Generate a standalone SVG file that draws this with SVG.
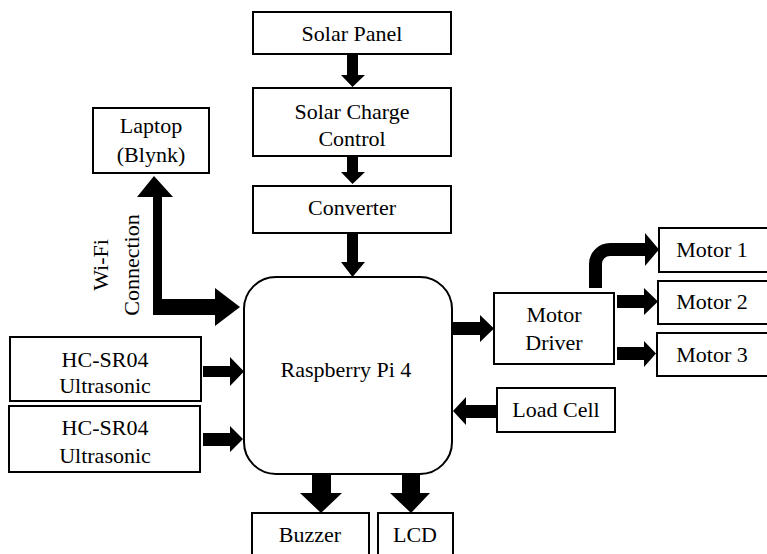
<svg xmlns="http://www.w3.org/2000/svg" width="767" height="554" viewBox="0 0 767 554">
<style>
.box{fill:#fff;stroke:#000;stroke-width:2}
.a{fill:#000;stroke:none}
.t{font-family:"Liberation Serif","Times New Roman",serif;font-size:22px;fill:#000;text-anchor:middle}
</style>
<rect x="0" y="0" width="767" height="554" fill="#fff"/>
<g id="connectors">
<polygon class="a" points="347,54 358,54 358,75 365,75 352.5,87 341,75 347,75"/>
<polygon class="a" points="347,156 358,156 358,172 365,172 352.5,184 341,172 347,172"/>
<polygon class="a" points="347,233 358,233 358,262 365,262 352.5,277 341,262 347,262"/>
<polygon class="a" points="154,176 173,197 162,197 162,299 215,299 215,288 240,307 215,326 215,315 153,315 153,197 137,197"/>
<polygon class="a" points="452,322 480,322 480,315 494,328.5 480,342 480,335 452,335"/>
<path d="M595.5,288 V264 A14.5,14.5 0 0 1 610,249.5 H646" fill="none" stroke="#000" stroke-width="13"/>
<polygon class="a" points="645,233 659,249.5 645,266"/>
<polygon class="a" points="617,295 644,295 644,288 658,301.5 644,315 644,308 617,308"/>
<polygon class="a" points="617,347 644,347 644,341 656,353.5 644,367 644,360 617,360"/>
<polygon class="a" points="497,405 466,405 466,397 453,411 466,425 466,418 497,418"/>
<polygon class="a" points="203,366 230,366 230,357 244,371.5 230,386 230,377 203,377"/>
<polygon class="a" points="203,433 230,433 230,426 243,439 230,452 230,446 203,446"/>
<polygon class="a" points="312,474 331,474 331,493 342,493 321,513 300,493 312,493"/>
<polygon class="a" points="402,474 420,474 420,493 430,493 411,513 390,493 402,493"/>
</g>
<g id="solar-panel"><rect class="box" x="253" y="12" width="198" height="42"/><text class="t" font-family="Liberation Serif" x="352" y="41">Solar Panel</text></g>
<g id="solar-charge-control"><rect class="box" x="253" y="88" width="198" height="68"/><text class="t" font-family="Liberation Serif" x="352" y="119">Solar Charge</text><text class="t" font-family="Liberation Serif" x="352" y="146">Control</text></g>
<g id="converter"><rect class="box" x="253" y="186" width="198" height="47"/><text class="t" font-family="Liberation Serif" x="352" y="215">Converter</text></g>
<g id="laptop"><rect class="box" x="93" y="108" width="116" height="65"/><text class="t" font-family="Liberation Serif" x="151" y="133">Laptop</text><text class="t" font-family="Liberation Serif" x="151" y="162">(Blynk)</text></g>
<g id="wifi-label"><text class="t" font-family="Liberation Serif" transform="translate(108,265) rotate(-90)">Wi-Fi</text><text class="t" font-family="Liberation Serif" transform="translate(139,265) rotate(-90)">Connection</text></g>
<g id="raspberry-pi"><rect class="box" x="244" y="277" width="208" height="197" rx="32" ry="32"/><text class="t" font-family="Liberation Serif" x="346" y="377">Raspberry Pi 4</text></g>
<g id="hc-sr04-1"><rect class="box" x="10" y="337" width="191" height="64"/><text class="t" font-family="Liberation Serif" x="105" y="367">HC-SR04</text><text class="t" font-family="Liberation Serif" x="105" y="393">Ultrasonic</text></g>
<g id="hc-sr04-2"><rect class="box" x="9" y="406" width="191" height="66"/><text class="t" font-family="Liberation Serif" x="105" y="435">HC-SR04</text><text class="t" font-family="Liberation Serif" x="105" y="463">Ultrasonic</text></g>
<g id="motor-driver"><rect class="box" x="494" y="293" width="120" height="71"/><text class="t" font-family="Liberation Serif" x="554" y="322">Motor</text><text class="t" font-family="Liberation Serif" x="554" y="350">Driver</text></g>
<g id="motor-1"><rect class="box" x="659" y="228" width="112" height="44"/><text class="t" font-family="Liberation Serif" x="712" y="257">Motor 1</text></g>
<g id="motor-2"><rect class="box" x="658" y="281" width="113" height="43"/><text class="t" font-family="Liberation Serif" x="712" y="309">Motor 2</text></g>
<g id="motor-3"><rect class="box" x="657" y="333" width="114" height="43"/><text class="t" font-family="Liberation Serif" x="712" y="362">Motor 3</text></g>
<g id="load-cell"><rect class="box" x="497" y="388" width="118" height="44"/><text class="t" font-family="Liberation Serif" x="556" y="417">Load Cell</text></g>
<g id="buzzer"><rect class="box" x="252" y="513" width="117" height="50"/><text class="t" font-family="Liberation Serif" x="310" y="542">Buzzer</text></g>
<g id="lcd"><rect class="box" x="378" y="513" width="75" height="50"/><text class="t" font-family="Liberation Serif" x="415" y="542">LCD</text></g>
</svg>
